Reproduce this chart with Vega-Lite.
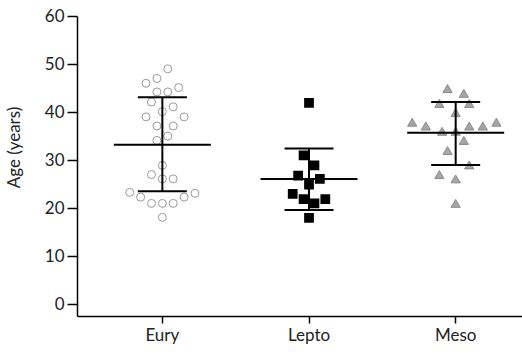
{
  "$schema": "https://vega.github.io/schema/vega-lite/v6.json",
  "width": 452,
  "height": 300,
  "autosize": {"type": "none"},
  "padding": {"left": 77, "top": 16, "right": -7, "bottom": 36},
  "background": "white",
  "config": {
    "view": {"stroke": null},
    "font": "Lato",
    "axis": {"labelFont": "Lato", "titleFont": "Lato", "labelColor": "#222", "titleColor": "#222", "domainColor": "#000", "tickColor": "#000", "grid": false}
  },
  "datasets": {
    "points": [
      {"group": "Eury", "age": 49.0, "slot": 2},
      {"group": "Eury", "age": 47.0, "slot": -2},
      {"group": "Eury", "age": 46.0, "slot": -6},
      {"group": "Eury", "age": 45.1, "slot": 6},
      {"group": "Eury", "age": 44.2, "slot": -2},
      {"group": "Eury", "age": 44.2, "slot": 2},
      {"group": "Eury", "age": 42.1, "slot": -4},
      {"group": "Eury", "age": 41.1, "slot": 4},
      {"group": "Eury", "age": 40.1, "slot": 0},
      {"group": "Eury", "age": 39.0, "slot": -6},
      {"group": "Eury", "age": 39.0, "slot": 8},
      {"group": "Eury", "age": 37.1, "slot": -2},
      {"group": "Eury", "age": 37.1, "slot": 4},
      {"group": "Eury", "age": 35.0, "slot": 2},
      {"group": "Eury", "age": 34.1, "slot": -2},
      {"group": "Eury", "age": 28.9, "slot": 0},
      {"group": "Eury", "age": 27.0, "slot": -4},
      {"group": "Eury", "age": 26.1, "slot": 0},
      {"group": "Eury", "age": 26.1, "slot": 4},
      {"group": "Eury", "age": 23.3, "slot": -12},
      {"group": "Eury", "age": 23.1, "slot": 12},
      {"group": "Eury", "age": 22.3, "slot": -8},
      {"group": "Eury", "age": 22.3, "slot": 8},
      {"group": "Eury", "age": 21.0, "slot": -4},
      {"group": "Eury", "age": 21.0, "slot": 0},
      {"group": "Eury", "age": 21.0, "slot": 4},
      {"group": "Eury", "age": 18.1, "slot": 0},
      {"group": "Lepto", "age": 41.9, "slot": 0},
      {"group": "Lepto", "age": 31.0, "slot": -2},
      {"group": "Lepto", "age": 28.9, "slot": 2},
      {"group": "Lepto", "age": 26.8, "slot": -4},
      {"group": "Lepto", "age": 26.1, "slot": 4},
      {"group": "Lepto", "age": 24.9, "slot": 0},
      {"group": "Lepto", "age": 23.0, "slot": -6},
      {"group": "Lepto", "age": 21.9, "slot": -2},
      {"group": "Lepto", "age": 21.9, "slot": 6},
      {"group": "Lepto", "age": 21.0, "slot": 2},
      {"group": "Lepto", "age": 18.0, "slot": 0},
      {"group": "Meso", "age": 44.9, "slot": -3},
      {"group": "Meso", "age": 43.9, "slot": 3},
      {"group": "Meso", "age": 41.8, "slot": -6},
      {"group": "Meso", "age": 41.8, "slot": 5},
      {"group": "Meso", "age": 39.9, "slot": 0},
      {"group": "Meso", "age": 37.9, "slot": -16},
      {"group": "Meso", "age": 37.9, "slot": 15},
      {"group": "Meso", "age": 37.1, "slot": -11},
      {"group": "Meso", "age": 37.1, "slot": 5},
      {"group": "Meso", "age": 37.1, "slot": 10},
      {"group": "Meso", "age": 36.0, "slot": -5},
      {"group": "Meso", "age": 36.0, "slot": 0},
      {"group": "Meso", "age": 34.1, "slot": 3},
      {"group": "Meso", "age": 32.0, "slot": -3},
      {"group": "Meso", "age": 29.0, "slot": 5},
      {"group": "Meso", "age": 27.0, "slot": -6},
      {"group": "Meso", "age": 26.1, "slot": 0},
      {"group": "Meso", "age": 21.0, "slot": 0}
    ],
    "summary": [
      {"group": "Eury", "mean": 33.2, "lo": 23.5, "hi": 43.1},
      {"group": "Lepto", "mean": 26.1, "lo": 19.6, "hi": 32.4},
      {"group": "Meso", "mean": 35.7, "lo": 29.0, "hi": 42.1}
    ]
  },
  "encoding": {
    "x": {
      "field": "group", "type": "nominal",
      "scale": {"domain": ["Eury", "Lepto", "Meso"], "paddingInner": 0, "paddingOuter": 0.041, "align": 1},
      "axis": {"title": null, "labelAngle": 0, "labelFontSize": 17, "tickSize": 7, "labelPadding": 4, "domainWidth": 1.5, "tickWidth": 1.5}
    }
  },
  "layer": [
    {
      "data": {"name": "points"},
      "transform": [{"filter": "datum.group === 'Eury'"}],
      "mark": {"type": "point", "shape": "circle", "filled": false, "fill": "white", "stroke": "#9a9a9a", "strokeWidth": 1, "size": 64, "opacity": 1},
      "encoding": {
        "xOffset": {"field": "slot", "type": "nominal", "scale": {"domain": [-27,-26,-25,-24,-23,-22,-21,-20,-19,-18,-17,-16,-15,-14,-13,-12,-11,-10,-9,-8,-7,-6,-5,-4,-3,-2,-1,0,1,2,3,4,5,6,7,8,9,10,11,12,13,14,15,16,17,18,19,20,21,22,23,24,25,26,27], "paddingInner": 0, "paddingOuter": 0}},
        "y": {"field": "age", "type": "quantitative",
          "scale": {"domain": [-2.44, 60], "nice": false, "zero": false},
          "axis": {"values": [0, 10, 20, 30, 40, 50, 60], "title": "Age (years)", "titleFontSize": 17, "titleFontWeight": "normal", "titleAngle": -90, "titleX": -63, "titleY": 131, "titleBaseline": "middle", "titleAlign": "center", "labelFontSize": 17, "tickSize": 10, "labelPadding": 3, "domainWidth": 1.5, "tickWidth": 1.5}
        }
      }
    },
    {
      "data": {"name": "points"},
      "transform": [{"filter": "datum.group === 'Lepto'"}],
      "mark": {"type": "point", "shape": "square", "filled": true, "fill": "black", "stroke": "black", "size": 60, "opacity": 1},
      "encoding": {
        "xOffset": {"field": "slot", "type": "nominal"},
        "y": {"field": "age", "type": "quantitative"}
      }
    },
    {
      "data": {"name": "points"},
      "transform": [{"filter": "datum.group === 'Meso'"}],
      "mark": {"type": "point", "shape": "triangle-up", "filled": true, "fill": "#a6a6a6", "stroke": "#7a7a7a", "strokeWidth": 0.8, "size": 85, "opacity": 1},
      "encoding": {
        "xOffset": {"field": "slot", "type": "nominal"},
        "y": {"field": "age", "type": "quantitative"}
      }
    },
    {
      "data": {"name": "summary"},
      "mark": {"type": "rule", "color": "black", "strokeWidth": 2},
      "encoding": {
        "y": {"field": "lo", "type": "quantitative"},
        "y2": {"field": "hi"}
      }
    },
    {
      "data": {"name": "summary"},
      "mark": {"type": "tick", "color": "black", "orient": "horizontal", "size": 97, "thickness": 2, "opacity": 1},
      "encoding": {"y": {"field": "mean", "type": "quantitative"}}
    },
    {
      "data": {"name": "summary"},
      "mark": {"type": "tick", "color": "black", "orient": "horizontal", "size": 49, "thickness": 2, "opacity": 1},
      "encoding": {"y": {"field": "lo", "type": "quantitative"}}
    },
    {
      "data": {"name": "summary"},
      "mark": {"type": "tick", "color": "black", "orient": "horizontal", "size": 49, "thickness": 2, "opacity": 1},
      "encoding": {"y": {"field": "hi", "type": "quantitative"}}
    }
  ]
}
